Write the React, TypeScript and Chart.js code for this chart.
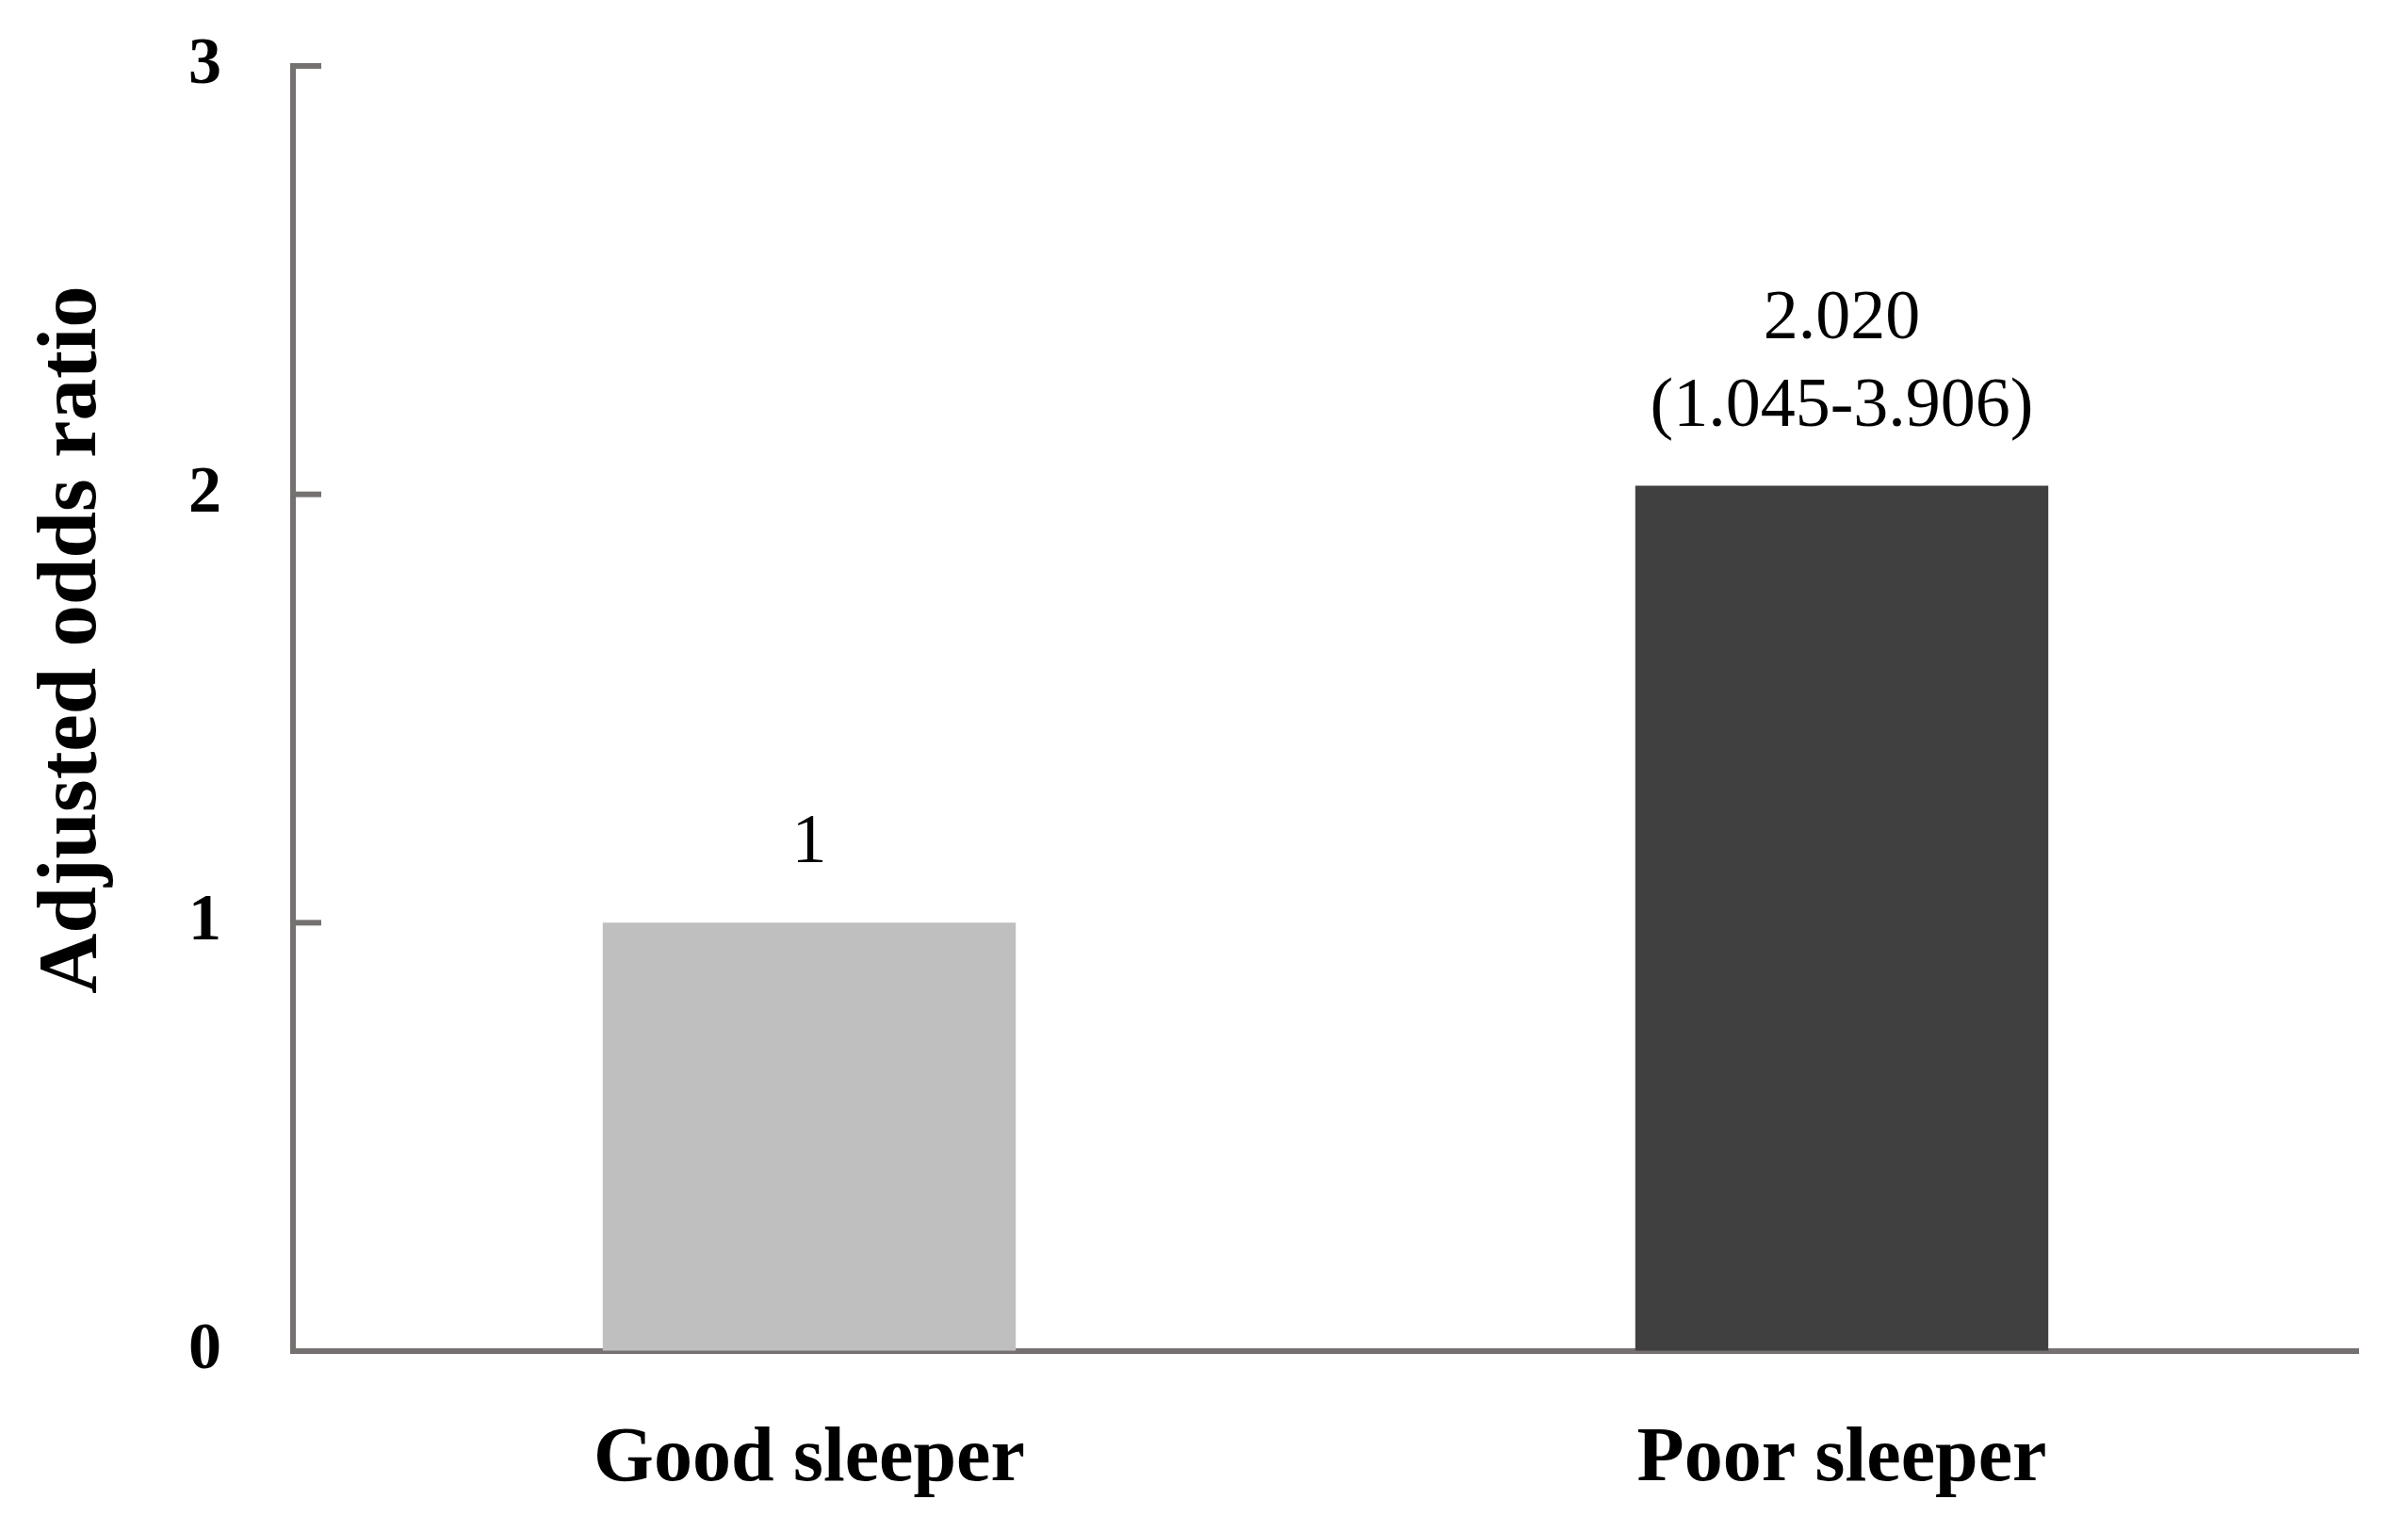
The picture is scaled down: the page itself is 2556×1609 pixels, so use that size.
import React, { useEffect, useRef } from "react";
import { Chart, registerables } from "chart.js";

Chart.register(...registerables);

const categories = ["Good sleeper", "Poor sleeper"];
const oddsRatios = [1, 2.02];
const valueLabels = [["1"], ["2.020", "(1.045-3.906)"]];
const barColors = ["#BFBFBF", "#404040"];
const yTicks = [0, 1, 2, 3];
const yTitle = "Adjusted odds ratio";

const FONT = "'Liberation Serif', 'Times New Roman', serif";
const AXIS_COLOR = "#767171";

const customPlugin = {
  id: "customDecor",
  afterDraw(chart: any) {
    const { ctx, chartArea } = chart;
    const yScale = chart.scales.y;
    const meta = chart.getDatasetMeta(0);
    ctx.save();
    // inward tick marks
    ctx.strokeStyle = AXIS_COLOR;
    ctx.lineWidth = 6;
    ctx.lineCap = "butt";
    yTicks.forEach((v) => {
      const py = yScale.getPixelForValue(v);
      ctx.beginPath();
      ctx.moveTo(chartArea.left - 2, py);
      ctx.lineTo(chartArea.left + 30, py);
      ctx.stroke();
    });
    // value labels
    ctx.fillStyle = "#000";
    ctx.font = `74px ${FONT}`;
    ctx.textAlign = "center";
    ctx.textBaseline = "alphabetic";
    meta.data.forEach((bar: any, i: number) => {
      const lines = valueLabels[i];
      const baseY = bar.y - 64;
      for (let k = 0; k < lines.length; k++) {
        const y = baseY - (lines.length - 1 - k) * 93;
        ctx.fillText(lines[k], bar.x, y);
      }
    });
    // y-axis title
    ctx.font = `bold 89px ${FONT}`;
    ctx.translate(chartArea.left - 210, (chartArea.top + chartArea.bottom) / 2 - 73);
    ctx.rotate(-Math.PI / 2);
    ctx.textAlign = "center";
    ctx.textBaseline = "alphabetic";
    ctx.fillText(yTitle, 0, 0);
    ctx.restore();
  },
};

export default function App() {
  const ref = useRef<HTMLCanvasElement>(null);
  useEffect(() => {
    if (!ref.current) return;
    const chart = new Chart(ref.current, {
      type: "bar",
      data: {
        labels: categories,
        datasets: [
          {
            data: oddsRatios,
            backgroundColor: barColors,
            borderWidth: 0,
            barPercentage: 0.4,
            categoryPercentage: 1.0,
          },
        ],
      },
      options: {
        responsive: false,
        animation: false,
        devicePixelRatio: 1,
        layout: { padding: { left: 0, top: 70, right: 53, bottom: 0 } },
        plugins: {
          legend: { display: false },
          tooltip: { enabled: false },
          title: { display: false },
        },
        scales: {
          x: {
            afterFit: (s: any) => {
              s.height = 175;
              s.paddingLeft = 0;
              s.paddingRight = 0;
            },
            grid: { display: true, drawOnChartArea: false, drawTicks: false },
            border: { display: true, color: AXIS_COLOR, width: 6 },
            ticks: {
              color: "#000",
              padding: 67,
              font: { family: FONT, size: 82, weight: "bold" },
            },
          },
          y: {
            min: 0,
            max: 3,
            afterFit: (s: any) => {
              s.width = 311;
              s.paddingTop = 0;
              s.paddingBottom = 0;
            },
            grid: { display: true, drawOnChartArea: false, drawTicks: false },
            border: { display: true, color: AXIS_COLOR, width: 6 },
            ticks: {
              stepSize: 1,
              color: "#000",
              padding: 76,
              font: { family: FONT, size: 70, weight: "bold" },
            },
          },
        },
      },
      plugins: [customPlugin],
    });
    return () => chart.destroy();
  }, []);
  return (
    <div style={{ position: "absolute", left: 0, top: 0, width: 2556, height: 1609, background: "#fff" }}>
      <canvas ref={ref} width={2556} height={1609} />
    </div>
  );
}
